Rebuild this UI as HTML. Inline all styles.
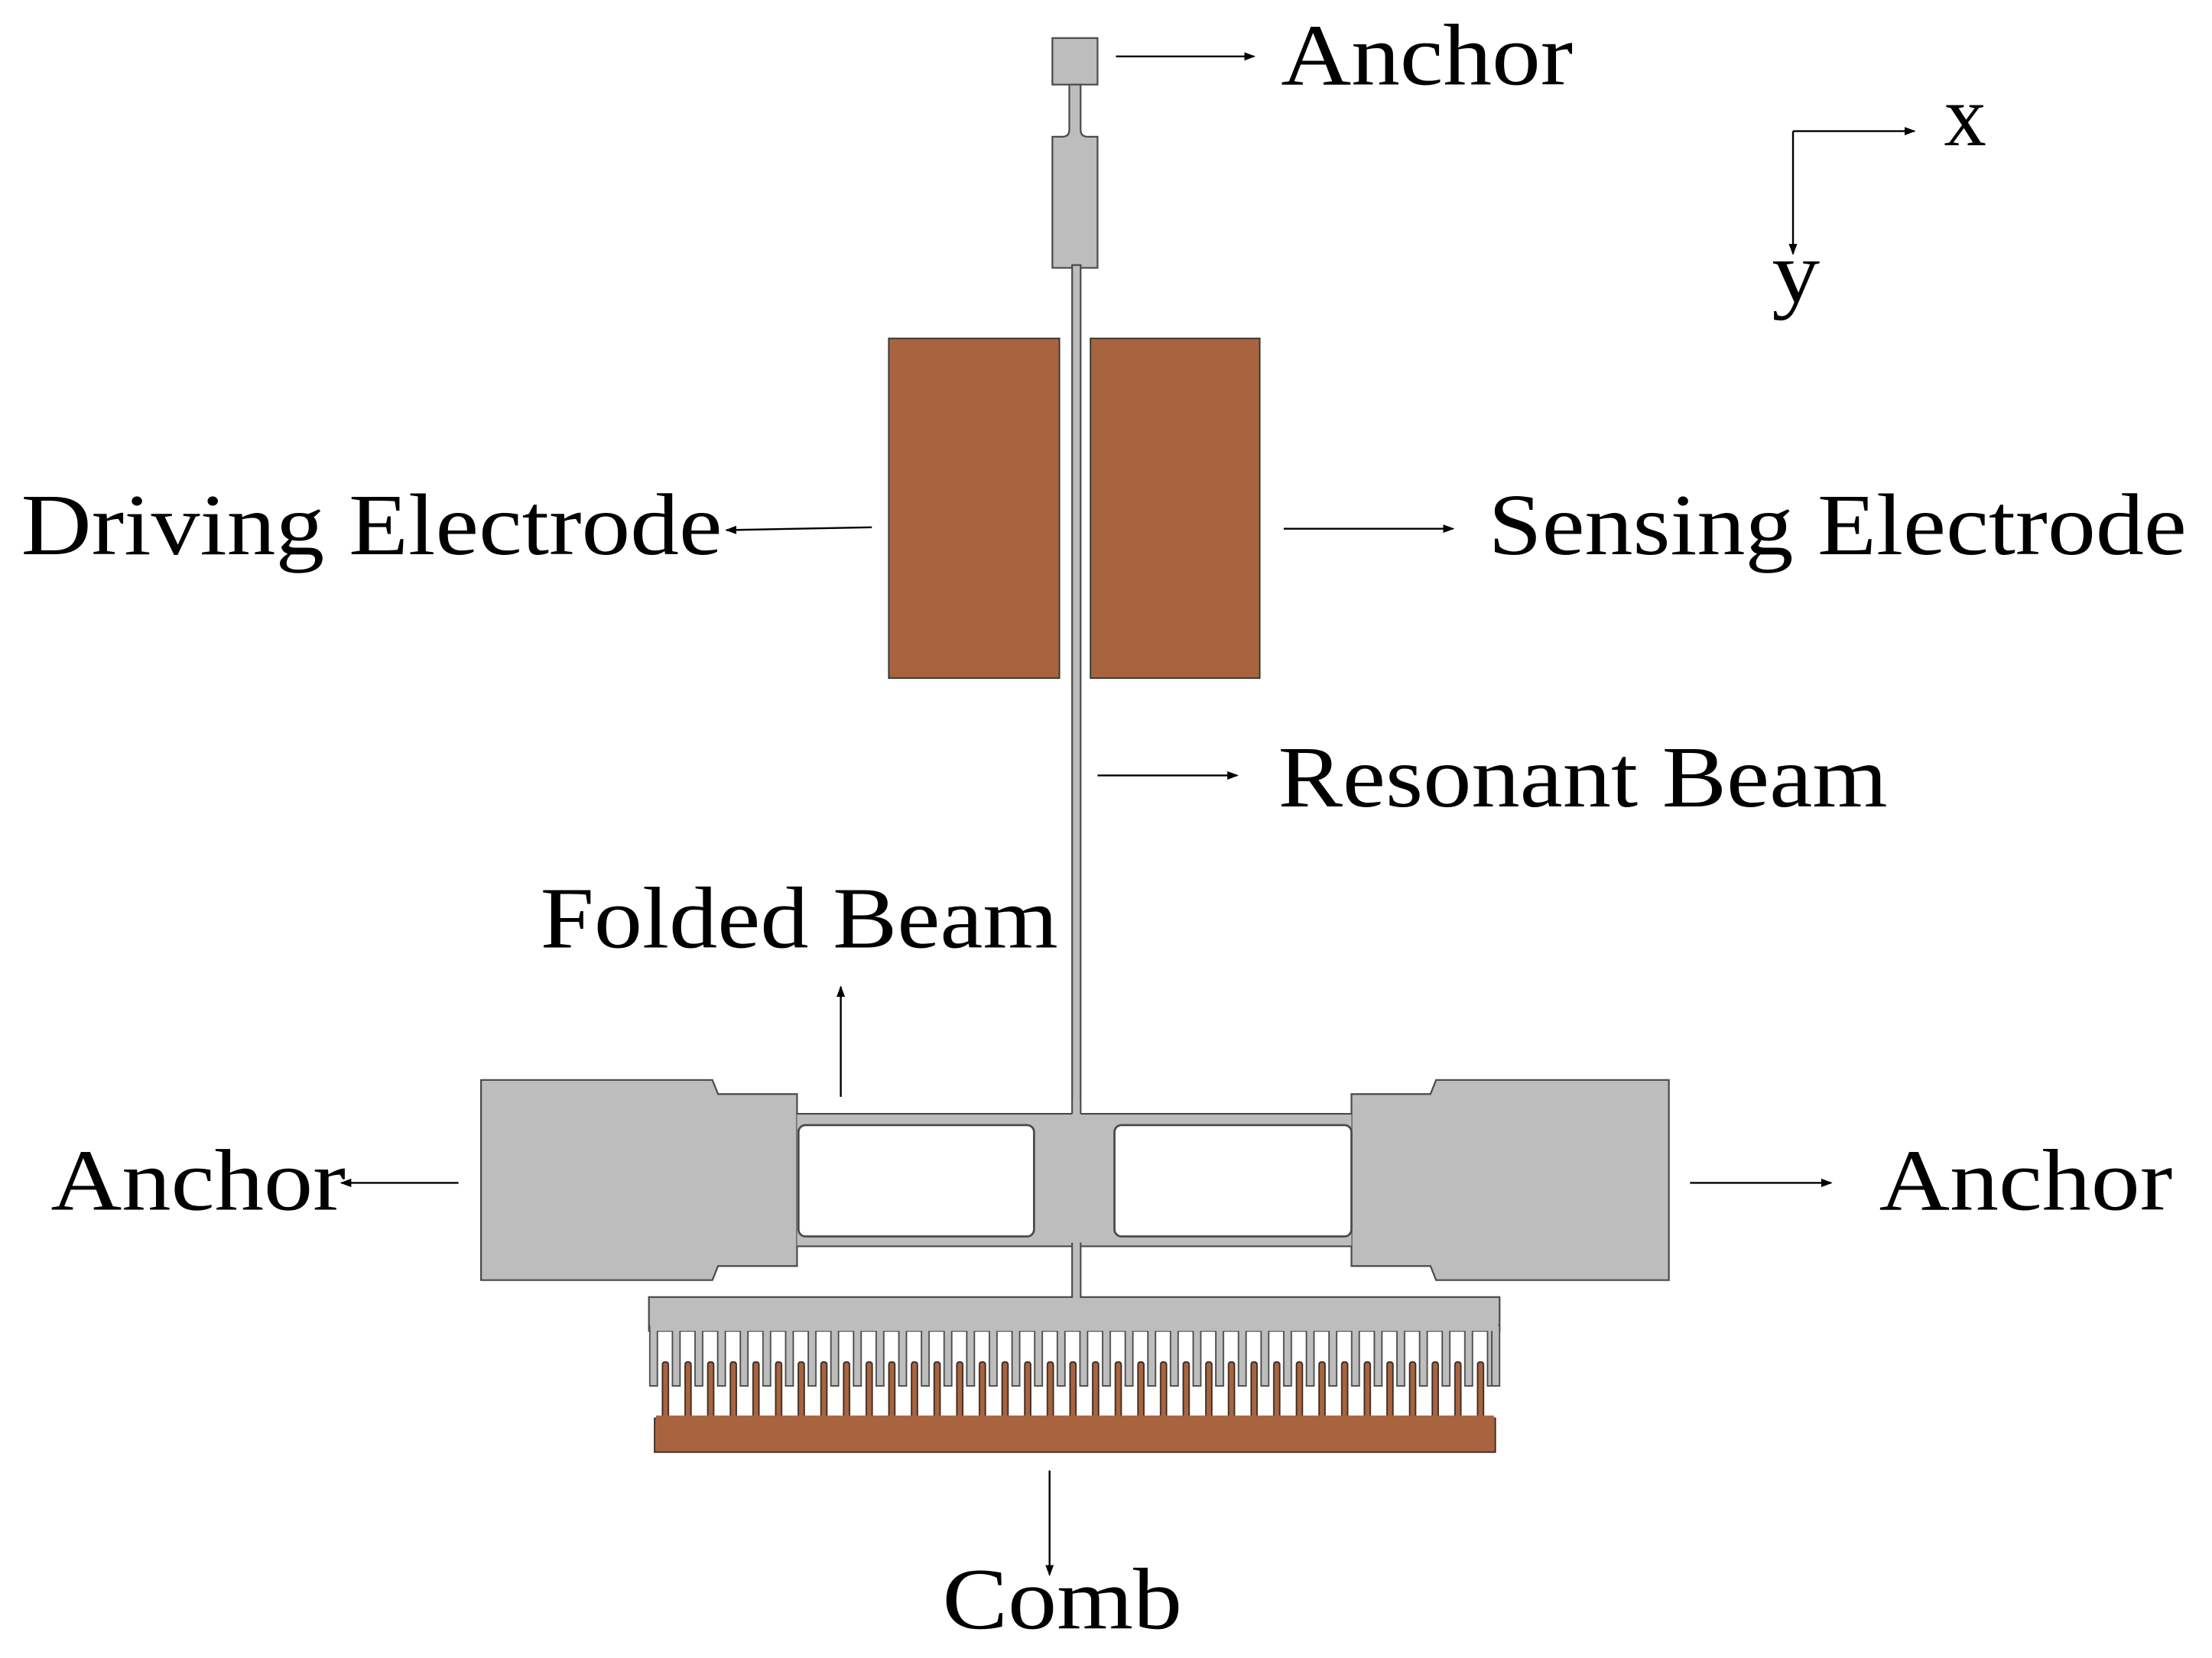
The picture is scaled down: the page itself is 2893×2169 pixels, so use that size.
<!DOCTYPE html>
<html><head><meta charset="utf-8"><style>
html,body{margin:0;padding:0;background:#fff;}
svg{display:block;}
text{font-family:"Liberation Serif",serif;fill:#000;}
</style></head><body>
<svg width="2893" height="2169" viewBox="0 0 1568 1176" preserveAspectRatio="none" xmlns="http://www.w3.org/2000/svg">
<defs>
<marker id="ah" markerWidth="8" markerHeight="8" refX="7" refY="4" orient="auto" markerUnits="userSpaceOnUse">
<path d="M0,1 L8,4 L0,7 Z" fill="#000"/>
</marker>
<pattern id="gp" x="460" y="0" width="16.05" height="1176" patternUnits="userSpaceOnUse">
<path d="M0.6,940 L0.6,983 L6,983 L6,940" fill="#bdbdbd" stroke="#4a4a4a" stroke-width="1"/>
</pattern>
<pattern id="bp" x="469" y="0" width="16.05" height="1176" patternUnits="userSpaceOnUse">
<path d="M0.6,1010 L0.6,968 Q0.6,966 2.6,966 Q4.8,966 4.8,968 L4.8,1010" fill="#a8643f" stroke="#3a2a20" stroke-width="1"/>
</pattern>
</defs>
<g stroke="#4a4a4a" stroke-width="1.2" fill="#bdbdbd">
<rect x="746" y="27" width="32" height="33"/>
<path d="M758,60 L766,60 L766,92 Q766,97 771,97 L778,97 L778,190 L746,190 L746,97 L753,97 Q758,97 758,92 Z"/>
<rect x="760" y="188" width="6" height="604" />
<path d="M341,766 L505,766 L509,776 L565,776 L565,898 L509,898 L505,908 L341,908 Z"/>
<path d="M1183,766 L1018,766 L1014,776 L958,776 L958,898 L1014,898 L1018,908 L1183,908 Z"/>
<rect x="565" y="790" width="393" height="94" stroke="none"/>
<line x1="565" y1="790" x2="760" y2="790"/>
<line x1="766" y1="790" x2="958" y2="790"/>
<line x1="565" y1="884" x2="760" y2="884"/>
<line x1="766" y1="884" x2="958" y2="884"/>
<rect x="760" y="882" width="6" height="40"/>
<rect x="460" y="920" width="603" height="24"/>
</g>
<rect x="760.6" y="780" width="4.8" height="16" fill="#bdbdbd"/>
<rect x="760.6" y="878" width="4.8" height="50" fill="#bdbdbd"/>
<rect x="566" y="798" width="167" height="79" rx="5" fill="#fff" stroke="#4a4a4a" stroke-width="1.5"/>
<rect x="790" y="798" width="168" height="79" rx="5" fill="#fff" stroke="#4a4a4a" stroke-width="1.5"/>
<!-- comb fingers -->
<rect x="460" y="938" width="600" height="48" fill="url(#gp)"/>
<rect x="1057.5" y="940" width="5.5" height="43" fill="#bdbdbd" stroke="#4a4a4a" stroke-width="1"/>
<rect x="461" y="939" width="601" height="5" fill="#bdbdbd"/>
<rect x="466" y="964" width="594" height="46" fill="url(#bp)"/>
<rect x="464" y="1006" width="596" height="24" fill="#a8643f" stroke="#3a2a20" stroke-width="1"/>
<rect x="465" y="1004" width="594" height="3" fill="#a8643f"/>
<!-- electrodes -->
<rect x="630" y="240" width="121" height="241" fill="#a8643f" stroke="#333" stroke-width="1"/>
<rect x="773" y="240" width="120" height="241" fill="#a8643f" stroke="#333" stroke-width="1"/>
<!-- arrows -->
<g stroke="#000" stroke-width="1.3" marker-end="url(#ah)">
<line x1="791" y1="40" x2="889" y2="40"/>
<line x1="618" y1="374" x2="515" y2="376"/>
<line x1="910" y1="375" x2="1030" y2="375"/>
<line x1="778" y1="550" x2="877" y2="550"/>
<line x1="596" y1="778" x2="596" y2="700"/>
<line x1="325" y1="839" x2="242" y2="839"/>
<line x1="1198" y1="839" x2="1298" y2="839"/>
<line x1="744" y1="1043" x2="744" y2="1117"/>
<line x1="1271" y1="93" x2="1357" y2="93"/>
<line x1="1271" y1="93" x2="1271" y2="180"/>
</g>
<g font-size="62">
<text x="908" y="60" textLength="207" lengthAdjust="spacingAndGlyphs">Anchor</text>
<text x="1378" y="103" textLength="30" lengthAdjust="spacingAndGlyphs">x</text>
<text x="1256" y="214" textLength="34" lengthAdjust="spacingAndGlyphs">y</text>
<text x="15" y="393" textLength="497" lengthAdjust="spacingAndGlyphs">Driving Electrode</text>
<text x="1055" y="393" textLength="495" lengthAdjust="spacingAndGlyphs">Sensing Electrode</text>
<text x="906" y="572" textLength="432" lengthAdjust="spacingAndGlyphs">Resonant Beam</text>
<text x="383" y="672" textLength="367" lengthAdjust="spacingAndGlyphs">Folded Beam</text>
<text x="36" y="858" textLength="209" lengthAdjust="spacingAndGlyphs">Anchor</text>
<text x="1332" y="858" textLength="208" lengthAdjust="spacingAndGlyphs">Anchor</text>
<text x="668" y="1155" textLength="170" lengthAdjust="spacingAndGlyphs">Comb</text>
</g>
</svg>
</body></html>
